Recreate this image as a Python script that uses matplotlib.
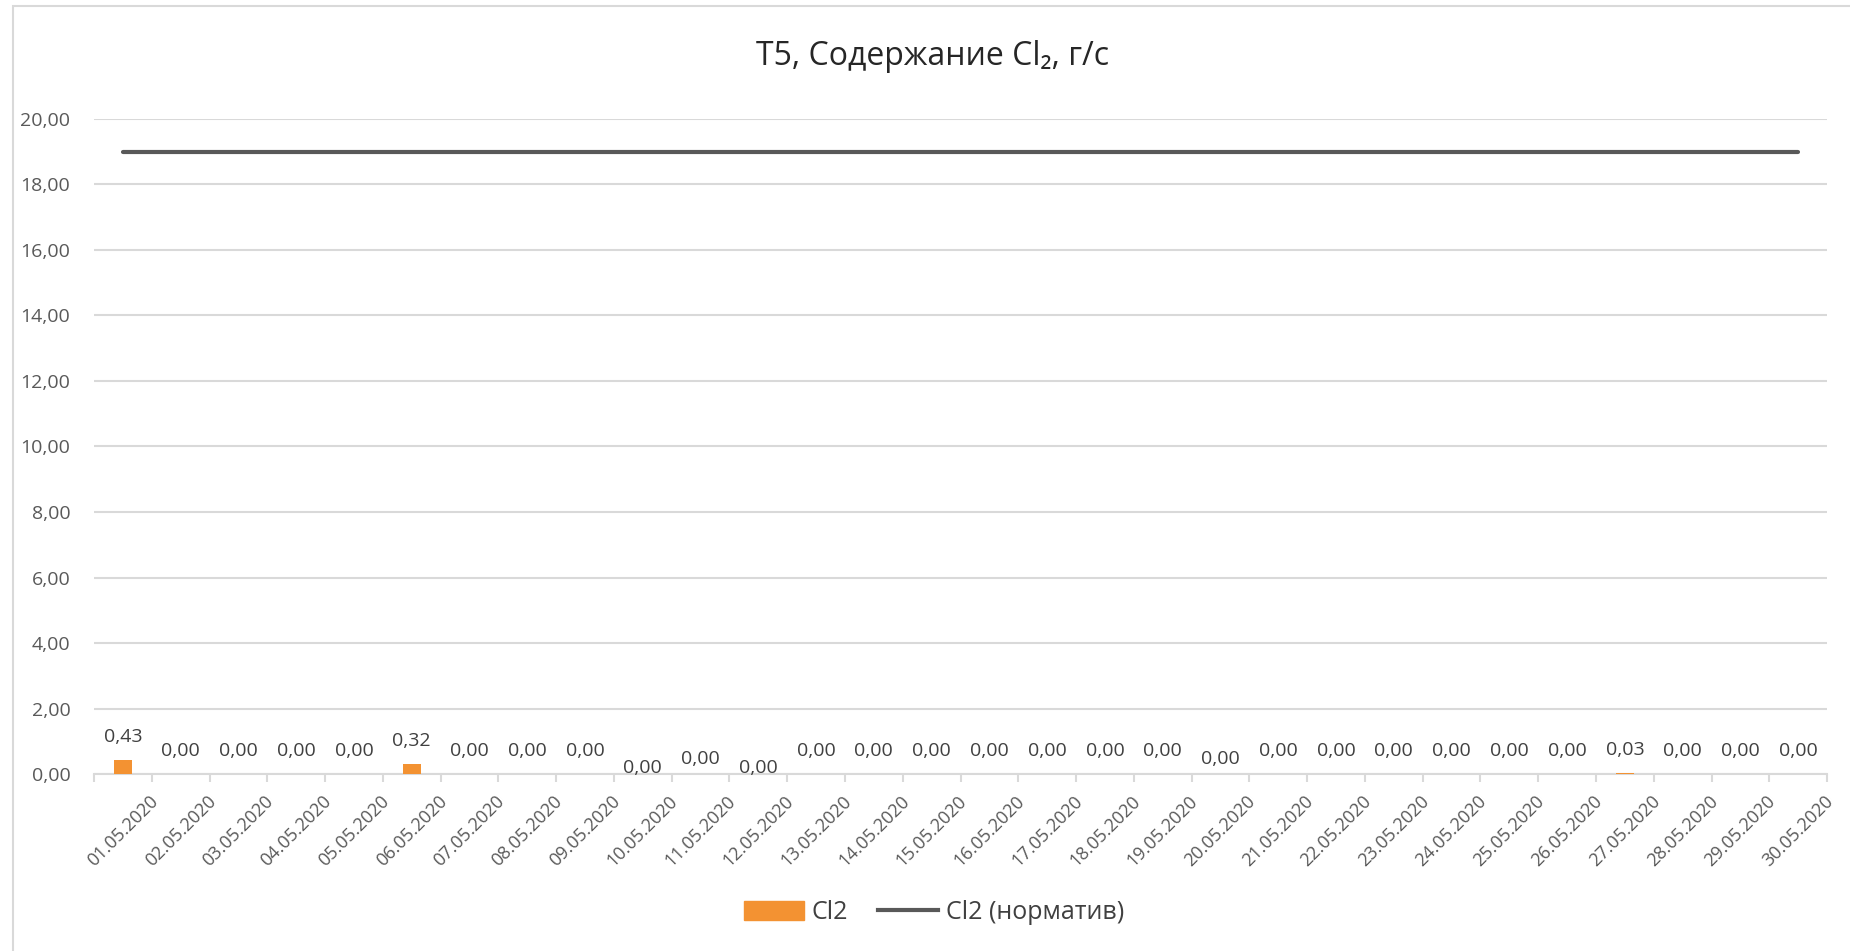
import matplotlib.pyplot as plt
from matplotlib.patches import Rectangle, Patch
from matplotlib.lines import Line2D
import numpy as np

plt.rcParams['font.family'] = ['Open Sans', 'DejaVu Sans']

# Data
dates = ['%02d.05.2020' % d for d in range(1, 31)]
cl2 = [0.43, 0.00, 0.00, 0.00, 0.00, 0.32, 0.00, 0.00, 0.00, 0.00,
       0.00, 0.00, 0.00, 0.00, 0.00, 0.00, 0.00, 0.00, 0.00, 0.00,
       0.00, 0.00, 0.00, 0.00, 0.00, 0.00, 0.03, 0.00, 0.00, 0.00]
cl2_norm = [19.0] * 30
yticks = [0, 2, 4, 6, 8, 10, 12, 14, 16, 18, 20]

# some labels sit lower in the original (points of drop)
label_drop = {9: 12, 10: 6, 11: 12, 19: 6}

fig = plt.figure(figsize=(18.5, 9.51), dpi=100)
ax = fig.add_axes([0.0508, 0.1861, 0.9368, 0.6888])

x = np.arange(len(dates))
orange = '#F39232'
ax.bar(x, cl2, width=0.31, color=orange, zorder=3)
ax.plot(x, cl2_norm, color='#595959', linewidth=3, solid_capstyle='round', zorder=4)

for i, v in enumerate(cl2):
    off = 16.5 - label_drop.get(i, 0)
    ax.annotate(('%.2f' % v).replace('.', ','), (x[i], v), xytext=(0, off),
                textcoords='offset points', ha='center', va='center',
                fontsize=14, color='#404040')

ax.set_xlim(-0.5, len(dates) - 0.5)
ax.set_ylim(0, 20)
ax.set_yticks(yticks)
ax.set_yticklabels([('%.2f' % t).replace('.', ',') for t in yticks],
                   fontsize=14, color='#595959')
ax.tick_params(axis='y', length=0, pad=17)
ax.yaxis.grid(True, color='#D9D9D9', linewidth=1.5, zorder=0)
ax.set_axisbelow(True)

ax.set_xticks(np.arange(len(dates) + 1) - 0.5, minor=True)
ax.set_xticks(x)
ax.set_xticklabels(dates, rotation=45, ha='center', va='top',
                   fontsize=13, color='#595959')
ax.tick_params(axis='x', which='major', length=0, pad=13)
ax.tick_params(axis='x', which='minor', length=6, width=1.5, color='#D9D9D9')

for s in ['top', 'right', 'left']:
    ax.spines[s].set_visible(False)
ax.spines['bottom'].set_color('#D9D9D9')
ax.spines['bottom'].set_linewidth(1.5)

fig.text(0.504, 0.941, 'T5, Содержание Cl₂, г/с', ha='center', va='center',
         fontsize=23, color='#262626')

handles = [Patch(color=orange), Line2D([0], [0], color='#595959', linewidth=3)]
fig.legend(handles, ['Cl2', 'Cl2 (норматив)'], loc='center', bbox_to_anchor=(0.505, 0.04),
           ncol=2, frameon=False, fontsize=18, handlelength=2.4, handleheight=0.8,
           columnspacing=1.2, handletextpad=0.3, labelcolor='#404040')

fig.patches.append(Rectangle((13 / 1850, -0.1), 1.2, 1.1 - 6 / 951, transform=fig.transFigure,
                             fill=False, edgecolor='#D9D9D9', linewidth=1.5))

fig.savefig('out.png', dpi=100)
